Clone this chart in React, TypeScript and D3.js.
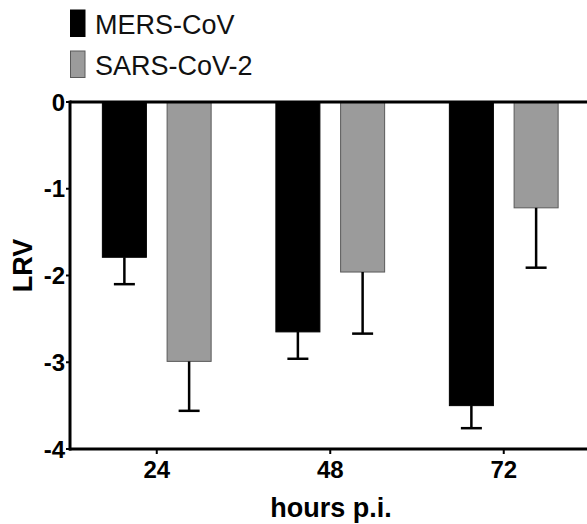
import React, { useEffect, useRef } from "react";
import * as d3 from "d3";

const hours = ["24", "48", "72"];
const seriesNames = ["MERS-CoV", "SARS-CoV-2"];
const mersMean = [-1.79, -2.65, -3.5];
const mersErr = [0.31, 0.31, 0.26];
const sarsMean = [-2.99, -1.96, -1.22];
const sarsErr = [0.57, 0.71, 0.69];
const yTicks = [0, -1, -2, -3, -4];

const colors = ["#000000", "#9b9b9b"];
const strokes = ["#000000", "#5a5a5a"];
const font = "'Liberation Sans', Arial, Helvetica, sans-serif";

const W = 587;
const H = 524;

export default function App() {
  const svgRef = useRef<SVGSVGElement>(null);

  useEffect(() => {
    const svg = d3.select(svgRef.current);
    svg.selectAll("*").remove();

    const left = 70;
    const top = 102;
    const bottom = 449;
    const step = 173.5;

    const x0 = d3
      .scaleBand()
      .domain(hours)
      .range([left, left + step * hours.length])
      .padding(0);
    const x1 = d3
      .scaleBand()
      .domain(seriesNames)
      .range([0, x0.bandwidth()])
      .paddingInner(0.32)
      .paddingOuter(0.5);
    const y = d3.scaleLinear().domain([-4, 0]).range([bottom, top]);

    const rows = hours.flatMap((h, i) => [
      { h, s: 0, mean: mersMean[i], err: mersErr[i] },
      { h, s: 1, mean: sarsMean[i], err: sarsErr[i] },
    ]);

    // bars
    svg
      .append("g")
      .selectAll("rect")
      .data(rows)
      .join("rect")
      .attr("x", (d) => x0(d.h)! + x1(seriesNames[d.s])!)
      .attr("y", y(0))
      .attr("width", x1.bandwidth())
      .attr("height", (d) => y(d.mean) - y(0))
      .attr("fill", (d) => colors[d.s])
      .attr("stroke", (d) => strokes[d.s])
      .attr("stroke-width", 1);

    // error bars
    const eb = svg.append("g").attr("stroke", "#000").attr("stroke-width", 2.5);
    const cx = (d: any) => x0(d.h)! + x1(seriesNames[d.s])! + x1.bandwidth() / 2;
    eb.selectAll(".stem")
      .data(rows)
      .join("line")
      .attr("x1", cx)
      .attr("x2", cx)
      .attr("y1", (d) => y(d.mean))
      .attr("y2", (d) => y(d.mean - d.err));
    eb.selectAll(".cap")
      .data(rows)
      .join("line")
      .attr("x1", (d) => cx(d) - 10.5)
      .attr("x2", (d) => cx(d) + 10.5)
      .attr("y1", (d) => y(d.mean - d.err))
      .attr("y2", (d) => y(d.mean - d.err));

    // axes
    const axes = svg.append("g").attr("stroke", "#000");
    axes
      .append("line")
      .attr("x1", left)
      .attr("x2", W + 5)
      .attr("y1", y(0))
      .attr("y2", y(0))
      .attr("stroke-width", 3);
    axes
      .append("line")
      .attr("x1", left - 1)
      .attr("x2", W + 5)
      .attr("y1", y(-4))
      .attr("y2", y(-4))
      .attr("stroke-width", 3);
    axes
      .append("line")
      .attr("x1", left)
      .attr("x2", left)
      .attr("y1", y(0) - 1.5)
      .attr("y2", y(-4) + 1.5)
      .attr("stroke-width", 3);

    axes
      .selectAll(".yt")
      .data(yTicks)
      .join("line")
      .attr("x1", left - 4)
      .attr("x2", left)
      .attr("y1", (d) => y(d))
      .attr("y2", (d) => y(d))
      .attr("stroke-width", 2);
    axes
      .selectAll(".xt")
      .data(hours)
      .join("line")
      .attr("x1", (d) => x0(d)! + x0.bandwidth() / 2)
      .attr("x2", (d) => x0(d)! + x0.bandwidth() / 2)
      .attr("y1", bottom)
      .attr("y2", bottom + 5)
      .attr("stroke-width", 2);

    const labels = svg
      .append("g")
      .attr("font-family", font)
      .attr("font-weight", "bold")
      .attr("font-size", 24)
      .attr("fill", "#000");
    labels
      .selectAll(".yl")
      .data(yTicks)
      .join("text")
      .attr("x", left - 5)
      .attr("y", (d) => y(d))
      .attr("dy", "0.36em")
      .attr("text-anchor", "end")
      .text((d) => (d === 0 ? "0" : String(d)));
    labels
      .selectAll(".xl")
      .data(hours)
      .join("text")
      .attr("x", (d) => x0(d)! + x0.bandwidth() / 2)
      .attr("y", 478)
      .attr("text-anchor", "middle")
      .text((d) => d);

    svg
      .append("text")
      .attr("transform", `translate(32,${(top + bottom) / 2 - 10}) rotate(-90)`)
      .attr("text-anchor", "middle")
      .attr("font-family", font)
      .attr("font-weight", "bold")
      .attr("font-size", 27)
      .text("LRV");
    svg
      .append("text")
      .attr("x", 331)
      .attr("y", 517)
      .attr("text-anchor", "middle")
      .attr("font-family", font)
      .attr("font-weight", "bold")
      .attr("font-size", 27)
      .text("hours p.i.");

    // legend
    const legend = svg
      .append("g")
      .selectAll("g")
      .data(seriesNames)
      .join("g")
      .attr("transform", (_, i) => `translate(70,${10 + i * 41})`);
    legend
      .append("rect")
      .attr("x", 0.5)
      .attr("y", 0)
      .attr("width", 14.5)
      .attr("height", 26.5)
      .attr("fill", (_, i) => colors[i])
      .attr("stroke", (_, i) => strokes[i])
      .attr("stroke-width", 1);
    legend
      .append("text")
      .attr("x", 25)
      .attr("y", 23.5)
      .attr("font-family", font)
      .attr("font-size", 27)
      .attr("fill", "#111")
      .text((d) => d);
  }, []);

  return (
    <div style={{ position: "absolute", left: 0, top: 0 }}>
      <svg ref={svgRef} width={W} height={H} style={{ display: "block", background: "#fff" }} />
    </div>
  );
}
